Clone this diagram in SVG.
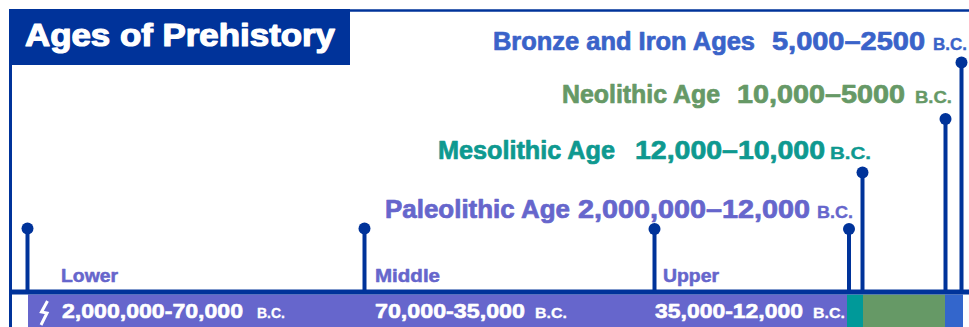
<svg xmlns="http://www.w3.org/2000/svg" width="969" height="327" viewBox="0 0 969 327">
<style>
  text { font-family: "Liberation Sans", Arial, sans-serif; font-weight: bold; stroke-linejoin: round; }
  .title { fill: #ffffff; stroke: #ffffff; stroke-width: 1.2px; font-size: 31px; }
  .h { font-size: 25px; stroke-width: 0.7px; }
  .bc { font-size: 17px; stroke-width: 0.4px; }
  .sub { fill: #6666cc; stroke: #6666cc; stroke-width: 0.5px; font-size: 18px; }
  .rng { fill: #ffffff; stroke: #ffffff; stroke-width: 0.6px; font-size: 20px; }
  .rbc { fill: #ffffff; stroke: #ffffff; stroke-width: 0.3px; font-size: 14px; }
  .bronze { fill: #3a63c9; stroke: #3a63c9; }
  .neo { fill: #669966; stroke: #669966; }
  .meso { fill: #0e9990; stroke: #0e9990; }
  .paleo { fill: #6666cc; stroke: #6666cc; }
  .pin { stroke: #00339a; stroke-width: 4; fill: none; }
  .dot { fill: #00339a; }
</style>
<rect x="0" y="0" width="969" height="327" fill="#ffffff"/>

<g id="frame">
  <rect x="9" y="9" width="341" height="56" fill="#00339a"/>
  <line x1="350" y1="10.5" x2="969" y2="10.5" stroke="#00339a" stroke-width="2.5"/>
  <line x1="10.5" y1="65" x2="10.5" y2="327" stroke="#00339a" stroke-width="3"/>
</g>

<g id="title">
  <text class="title" x="25" y="46" textLength="310" lengthAdjust="spacingAndGlyphs">Ages of Prehistory</text>
</g>

<g id="bar">
  <rect x="28" y="294.5" width="819" height="32.5" fill="#6666cc"/>
  <rect x="847" y="294.5" width="16" height="32.5" fill="#009999"/>
  <rect x="863" y="294.5" width="82" height="32.5" fill="#669966"/>
  <rect x="945" y="294.5" width="18" height="32.5" fill="#3366cc"/>
  <line x1="9" y1="292" x2="969" y2="292" stroke="#00339a" stroke-width="5"/>
</g>

<g id="connectors">
  <line class="pin" x1="27.5" y1="228.5" x2="27.5" y2="292"/>
  <circle class="dot" cx="27.5" cy="228.5" r="6"/>
  <line class="pin" x1="364.5" y1="228.5" x2="364.5" y2="292"/>
  <circle class="dot" cx="364.5" cy="228.5" r="6"/>
  <line class="pin" x1="654.5" y1="229" x2="654.5" y2="292"/>
  <circle class="dot" cx="654.5" cy="229" r="6"/>
  <line class="pin" x1="849" y1="229" x2="849" y2="292"/>
  <circle class="dot" cx="849" cy="229" r="6"/>
  <line class="pin" x1="862.5" y1="172.5" x2="862.5" y2="292"/>
  <circle class="dot" cx="862.5" cy="172.5" r="6"/>
  <line class="pin" x1="945.5" y1="119" x2="945.5" y2="292"/>
  <circle class="dot" cx="945.5" cy="119" r="6"/>
  <line class="pin" x1="961.5" y1="62.5" x2="961.5" y2="292"/>
  <circle class="dot" cx="961.5" cy="62.5" r="6"/>
</g>

<g id="bronze-iron">
  <text class="h bronze" x="493" y="50" textLength="262" lengthAdjust="spacingAndGlyphs">Bronze and Iron Ages</text>
  <text class="h bronze" x="772" y="50" textLength="153" lengthAdjust="spacingAndGlyphs">5,000–2500</text>
  <text class="bc bronze" x="933" y="50" textLength="34" lengthAdjust="spacingAndGlyphs">B.C.</text>
</g>

<g id="neolithic">
  <text class="h neo" x="562" y="102.5" textLength="158" lengthAdjust="spacingAndGlyphs">Neolithic Age</text>
  <text class="h neo" x="737" y="102.5" textLength="168" lengthAdjust="spacingAndGlyphs">10,000–5000</text>
  <text class="bc neo" x="915" y="102.5" textLength="37" lengthAdjust="spacingAndGlyphs">B.C.</text>
</g>

<g id="mesolithic">
  <text class="h meso" x="438" y="158.5" textLength="177" lengthAdjust="spacingAndGlyphs">Mesolithic Age</text>
  <text class="h meso" x="635" y="158.5" textLength="190" lengthAdjust="spacingAndGlyphs">12,000–10,000</text>
  <text class="bc meso" x="830" y="158.5" textLength="41" lengthAdjust="spacingAndGlyphs">B.C.</text>
</g>

<g id="paleolithic">
  <text class="h paleo" x="385" y="217.5" textLength="185" lengthAdjust="spacingAndGlyphs">Paleolithic Age</text>
  <text class="h paleo" x="578" y="217.5" textLength="232" lengthAdjust="spacingAndGlyphs">2,000,000–12,000</text>
  <text class="bc paleo" x="817" y="217.5" textLength="36" lengthAdjust="spacingAndGlyphs">B.C.</text>
</g>

<g id="lower">
  <text class="sub" x="61" y="282" textLength="57" lengthAdjust="spacingAndGlyphs">Lower</text>
  <path d="M47.5,301 L41.5,312 L47,313 L41,325" fill="none" stroke="#ffffff" stroke-width="3" stroke-linejoin="miter"/>
  <text class="rng" x="62" y="318" textLength="181" lengthAdjust="spacingAndGlyphs">2,000,000-70,000</text>
  <text class="rbc" x="257" y="318" textLength="28" lengthAdjust="spacingAndGlyphs">B.C.</text>
</g>

<g id="middle">
  <text class="sub" x="375" y="282" textLength="65" lengthAdjust="spacingAndGlyphs">Middle</text>
  <text class="rng" x="375" y="318" textLength="150" lengthAdjust="spacingAndGlyphs">70,000-35,000</text>
  <text class="rbc" x="535" y="318" textLength="32" lengthAdjust="spacingAndGlyphs">B.C.</text>
</g>

<g id="upper">
  <text class="sub" x="663" y="282" textLength="56" lengthAdjust="spacingAndGlyphs">Upper</text>
  <text class="rng" x="655" y="318" textLength="148" lengthAdjust="spacingAndGlyphs">35,000-12,000</text>
  <text class="rbc" x="813" y="318" textLength="32" lengthAdjust="spacingAndGlyphs">B.C.</text>
</g>
</svg>
